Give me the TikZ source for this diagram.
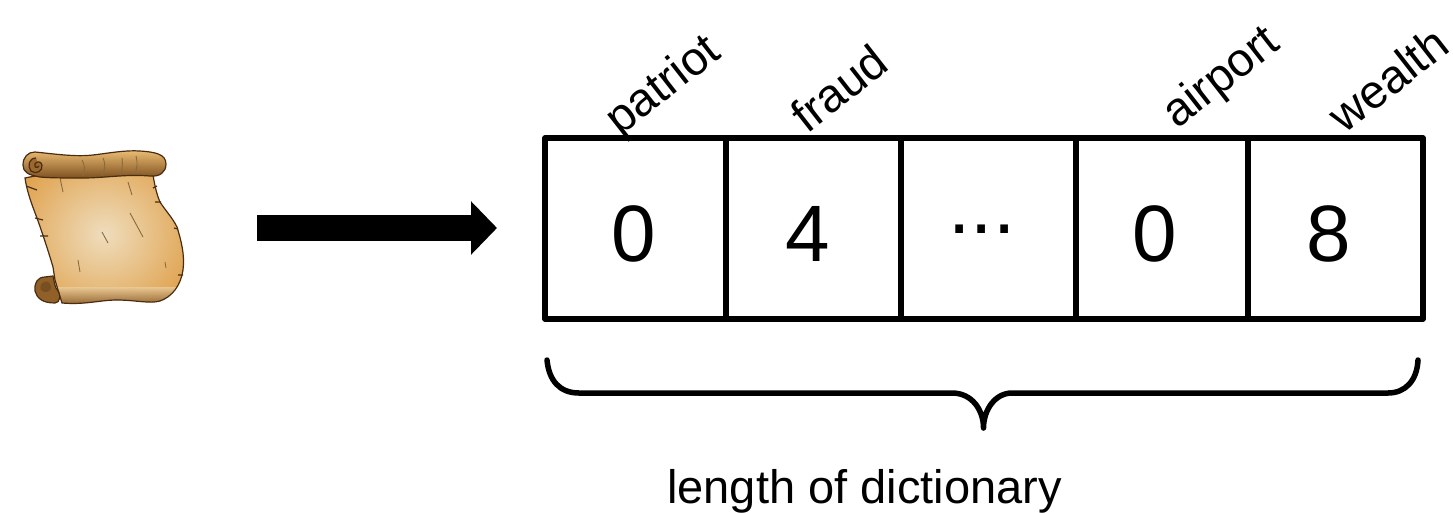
\documentclass[tikz,border=0pt]{standalone}
\usepackage{fontspec}
\setmainfont{Liberation Sans}
\usetikzlibrary{arrows.meta,calc}
\definecolor{parchlight}{HTML}{EFDDBD}
\definecolor{parchmid}{HTML}{EBCB98}
\definecolor{parchedge}{HTML}{DFA04A}
\definecolor{rolltop}{HTML}{EDBE74}
\definecolor{rollmid}{HTML}{DFA658}
\definecolor{rolllow}{HTML}{7E5020}
\definecolor{inkbrown}{HTML}{4A2C10}
\definecolor{crack}{HTML}{8A6A3C}
\tikzset{
  cellbox/.style={draw=black,line width=5.5pt,line join=round,minimum height=181pt,inner sep=0pt,outer sep=0pt},
  bigtext/.style={font=\fontsize{80}{80}\selectfont,inner sep=0pt,anchor=center},
  wordlabel/.style={font=\fontsize{47}{47}\selectfont,inner sep=0pt,rotate=38,anchor=center},
  captiontext/.style={font=\fontsize{47}{47}\selectfont,inner sep=0pt,anchor=base},
  blockarrow/.style={line width=26pt,-{Triangle[length=26pt,width=52pt]},black},
  bracestroke/.style={line width=5.5pt,line cap=round,line join=round},
  scrollink/.style={draw=inkbrown,line width=1.2pt},
  scrollcrack/.style={draw=crack,line width=0.9pt}
}
\begin{document}
\begin{tikzpicture}[x=1pt,y=-1pt]
\useasboundingbox (0,0) rectangle (1453,512);

% parchment sheet
\def\sheet{(25,178) .. controls (27,192) and (32,205) .. (37,218)
  .. controls (42,232) and (48,250) .. (53,267) -- (55,280) -- (62,303)
  .. controls (85,305) and (100,300) .. (117,300)
  .. controls (135,300) and (150,304) .. (160,301)
  .. controls (172,297) and (181,285) .. (183,270)
  .. controls (185,255) and (181,240) .. (177,227)
  .. controls (172,217) and (165,210) .. (160,202)
  .. controls (157,195) and (155,187) .. (153,175) -- (40,175) -- cycle}
\begin{scope}
  \clip \sheet;
  \shade[inner color=parchlight,middle color=parchmid,outer color=parchedge,shading=radial]
    (104,234) ellipse (100 and 95);
  \shade[top color=parchmid,bottom color=rolllow,opacity=0.85]
    (20,287) rectangle (190,306);
\end{scope}
\draw[scrollink] \sheet;

% torn edge nicks and creases
\draw[scrollcrack] (60,178) -- (63,192) (128,182) -- (132,195) (130,213) -- (143,237)
  (102,232) -- (108,243) (78,260) -- (80,272) (165,262) -- (166,268);
\draw[scrollink] (26,186) -- (37,190) (35,218) -- (43,220) (40,236) -- (48,236)
  (153,188) -- (157,186) (155,202) -- (161,202) (174,228) -- (178,229) (178,275) -- (183,275);

% upper roll
\def\upperroll{(35,152) .. controls (55,154) and (75,157) .. (93,155)
  .. controls (110,153) and (125,150) .. (140,151)
  .. controls (155,152) and (166,154) .. (166,164)
  .. controls (166,172) and (160,177) .. (150,176)
  .. controls (125,174) and (105,178) .. (83,178)
  .. controls (65,178) and (50,178) .. (40,177)
  .. controls (28,175) and (23,172) .. (23,165)
  .. controls (23,157) and (28,152) .. (35,152) -- cycle}
\path[top color=rolltop,middle color=rollmid,bottom color=rolllow] \upperroll;
\draw[scrollink] \upperroll;
\draw[scrollcrack] (82,160) .. controls (85,165) and (85,170) .. (83,176)
  (103,158) .. controls (106,165) and (105,170) .. (102,176)
  (122,158) .. controls (123,165) and (122,170) .. (120,175)
  (136,156) .. controls (138,163) and (137,168) .. (135,174);
\draw[scrollink,fill=rolllow!70!parchedge] (36,158) .. controls (29,158) and (27,166) .. (31,171)
  .. controls (36,175) and (43,171) .. (42,165) .. controls (41,161) and (37,161) .. (35,164)
  .. controls (34,167) and (37,169) .. (39,166);

% lower roll curl
\path[fill=rolllow!80!parchedge,draw=inkbrown,line width=1.2pt]
  (45,277) .. controls (37,277) and (34,284) .. (35,291)
  .. controls (37,298) and (42,303) .. (55,303)
  .. controls (60,303) and (62,295) .. (56,288)
  .. controls (54,283) and (54,279) .. (53,276) -- cycle;
\path[fill=inkbrown!70!parchedge] (44,282) .. controls (39,284) and (39,291) .. (44,292)
  .. controls (50,293) and (53,288) .. (50,284) .. controls (48,281) and (46,281) .. (44,282) -- cycle;

% node standing for the whole document, used as the arrow's start
\node[minimum width=166pt,minimum height=156pt,inner sep=0pt,outer sep=0pt] (scroll) at (103,228) {};

% vector cells
\node[cellbox,minimum width=181pt] (c1) at (635.5,228.5) {};
\node[cellbox,minimum width=175pt] (c2) at (813.5,228.5) {};
\node[cellbox,minimum width=175pt] (c3) at (988.5,228.5) {};
\node[cellbox,minimum width=172pt] (c4) at (1162,228.5) {};
\node[cellbox,minimum width=175pt] (c5) at (1335.5,228.5) {};

% cell values
\node[bigtext] (v1) at (634,234) {0};
\node[bigtext] (v2) at (808,234) {4};
\node[bigtext] (v3) at (982,229) {...};
\node[bigtext] (v4) at (1155,234) {0};
\node[bigtext] (v5) at (1329,234) {8};

% arrow from the document to the vector
\draw[blockarrow,shorten <=71pt,shorten >=48pt] (scroll.east) -- (scroll.east -| c1.west);

% slanted word labels
\node[wordlabel] (w1) at (664,87) {patriot};
\node[wordlabel] (w2) at (839,88) {fraud};
\node[wordlabel] (w3) at (1222,79) {airport};
\node[wordlabel] (w4) at (1388,79) {wealth};

% brace under the vector
\coordinate (bl) at (547,360);
\coordinate (bt) at (983.5,428);
\coordinate (br) at (1418,360);
\draw[bracestroke] (bl) .. controls (549,381) and (560,393) .. (579,393) -- (952,393)
  .. controls (972,393) and (983.5,410) .. (bt)
  .. controls (983.5,410) and (995,393) .. (1012,393) -- (1388,393)
  .. controls (1405,393) and (1417,381) .. (br);
\node[captiontext] (cap) at (864.5,503) {length of dictionary};
\end{tikzpicture}
\end{document}
